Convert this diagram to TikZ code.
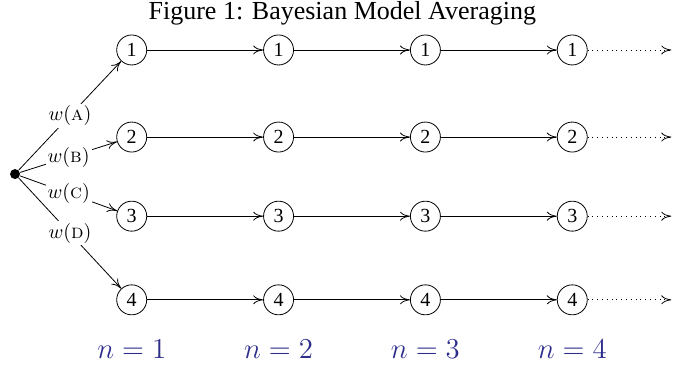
\documentclass[tikz,border=0pt]{standalone}
\usepackage{fontspec}
\setmainfont{Liberation Serif}
\usepackage{amsmath}
\definecolor{colStep}{RGB}{45,45,140}
\newcommand{\wlab}[1]{$w(\text{\fontfamily{lmr}\scshape #1})$}
\usetikzlibrary{arrows.meta, positioning}

\begin{document}
\begin{tikzpicture}[>={To[length=5pt, width=4.5pt]},
		model/.style={draw, circle, minimum size=15pt, inner sep=0pt},
		weight/.style={fill=white, inner sep=1pt}]
	\useasboundingbox (-0.264,-3.357) rectangle (11.56,3.058);
	\node[anchor=base, inner sep=0pt] (title) at (5.75,2.71) {\fontsize{13}{15}\selectfont Figure 1: Bayesian Model Averaging};
	\node[circle, fill, inner sep=0pt, minimum size=5pt] (root) at (0,0) {};
	\foreach \r/\y in {1/2.18, 2/0.65, 3/-0.74, 4/-2.21}{
		\foreach \c in {1,...,4}{
			\node[model] (m\r\c) at ({2.05+2.58*(\c-1)},\y) {\r};
		}
		\foreach \c [evaluate=\c as \n using int(\c+1)] in {1,2,3}{
			\draw[->] (m\r\c) -- (m\r\n);
		}
		\coordinate (end\r) at (11.53,\y);
		\draw[->, dotted] (m\r4) -- (end\r);
	}
	\foreach \r/\l in {1/a, 2/b, 3/c, 4/d}{
		\draw[->] (root) -- node[weight] {\wlab{\l}} (m\r1);
	}
	\foreach \c in {1,...,4}{
		\node[text=colStep, anchor=base, inner sep=0pt, font=\fontsize{13.3}{16}\selectfont] (lab\c) at ({2.05+2.58*(\c-1)},-3.234) {$n=\c$};
	}
\end{tikzpicture}
\end{document}
